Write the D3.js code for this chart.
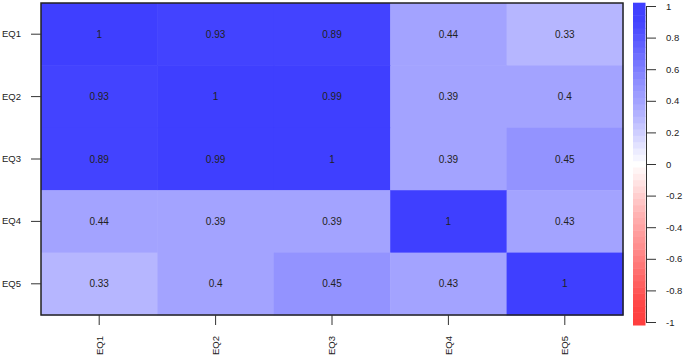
<!DOCTYPE html>
<html>
<head>
<meta charset="utf-8">
<script src="https://cdn.jsdelivr.net/npm/d3@7"></script>
<style>
  body { margin: 0; background: #fff; }
  svg { display: block; font-family: "Liberation Sans", Arial, sans-serif; }
  .axis text { fill: #222; }
  .axis line, .axis path { stroke: #333; }
</style>
</head>
<body>
<div id="chart"></div>
<script>
const rowLabels = ['EQ1', 'EQ2', 'EQ3', 'EQ4', 'EQ5']
const colLabels = ['EQ1', 'EQ2', 'EQ3', 'EQ4', 'EQ5']
const eq1 = [1, 0.93, 0.89, 0.44, 0.33]
const eq2 = [0.93, 1, 0.99, 0.39, 0.4]
const eq3 = [0.89, 0.99, 1, 0.39, 0.45]
const eq4 = [0.44, 0.39, 0.39, 1, 0.43]
const eq5 = [0.33, 0.4, 0.45, 0.43, 1]
const legendTicks = [1, 0.8, 0.6, 0.4, 0.2, 0, -0.2, -0.4, -0.6, -0.8, -1]

const rows = [eq1, eq2, eq3, eq4, eq5]
const cells = []
rows.forEach((r, i) => r.forEach((v, j) => cells.push({ row: rowLabels[i], col: colLabels[j], value: v })))

const width = 685, height = 357
const P = { left: 41, right: 623, top: 3, bottom: 315 }

// white -> blue / red; grey level eased, cells binned at 0.1
const level = d3.scaleLinear()
  .domain([0, 0.3, 0.4, 0.5, 0.9, 1])
  .range([255, 182, 163, 147, 67, 63])
const shade = v => {
  const g = Math.round(level(Math.abs(v)))
  return v >= 0 ? `rgb(${g},${g},255)` : `rgb(255,${g},${g})`
}
const binned = v => shade(Math.round(v * 10) / 10)

const svg = d3.select('#chart').append('svg').attr('width', width).attr('height', height)

const x = d3.scaleBand().domain(colLabels).range([P.left, P.right])
const y = d3.scaleBand().domain(rowLabels).range([P.top, P.bottom])

svg.append('g').selectAll('rect').data(cells).join('rect')
  .attr('x', d => x(d.col))
  .attr('y', d => y(d.row))
  .attr('width', x.bandwidth() + 0.5)
  .attr('height', y.bandwidth() + 0.5)
  .attr('fill', d => binned(d.value))

svg.append('g').selectAll('text').data(cells).join('text')
  .attr('x', d => x(d.col) + x.bandwidth() / 2)
  .attr('y', d => y(d.row) + y.bandwidth() / 2)
  .attr('dy', '0.35em')
  .attr('text-anchor', 'middle')
  .style('font-size', '10px')
  .attr('fill', '#222')
  .text(d => d.value)

svg.append('rect')
  .attr('x', P.left).attr('y', P.top)
  .attr('width', P.right - P.left).attr('height', P.bottom - P.top)
  .attr('fill', 'none').attr('stroke', '#222').attr('stroke-width', 1.5)

// ── axes ─────────────────────────────────────────────────────
const gy = svg.append('g').attr('class', 'axis')
  .attr('transform', `translate(${P.left},0)`)
  .call(d3.axisLeft(y).tickSize(10).tickPadding(10))
gy.select('.domain').remove()
gy.selectAll('text').style('font-size', '9.5px')

const gx = svg.append('g').attr('class', 'axis')
  .attr('transform', `translate(0,${P.bottom})`)
  .call(d3.axisBottom(x).tickSize(10).tickPadding(10))
gx.select('.domain').remove()
gx.selectAll('text')
  .style('font-size', '9.5px')
  .attr('transform', 'rotate(-90)')
  .attr('text-anchor', 'end')
  .attr('x', -21).attr('y', 0).attr('dy', '0.35em')

// ── colour legend ────────────────────────────────────────────
const ly = d3.scaleLinear().domain([-1, 1]).range([322, 6])
const steps = d3.range(-1, 1.0001, 0.04)
svg.append('g').selectAll('rect').data(steps).join('rect')
  .attr('x', 633)
  .attr('y', d => ly(d) - 3.3)
  .attr('width', 12.5)
  .attr('height', 6.8)
  .attr('fill', d => shade(d))

const gl = svg.append('g').attr('class', 'axis')
  .attr('transform', 'translate(646,0)')
  .call(d3.axisRight(ly).tickValues(legendTicks).tickSize(10).tickSizeOuter(0).tickPadding(10)
    .tickFormat(d => String(d)))
gl.selectAll('text').style('font-size', '9.5px')
</script>
</body>
</html>
